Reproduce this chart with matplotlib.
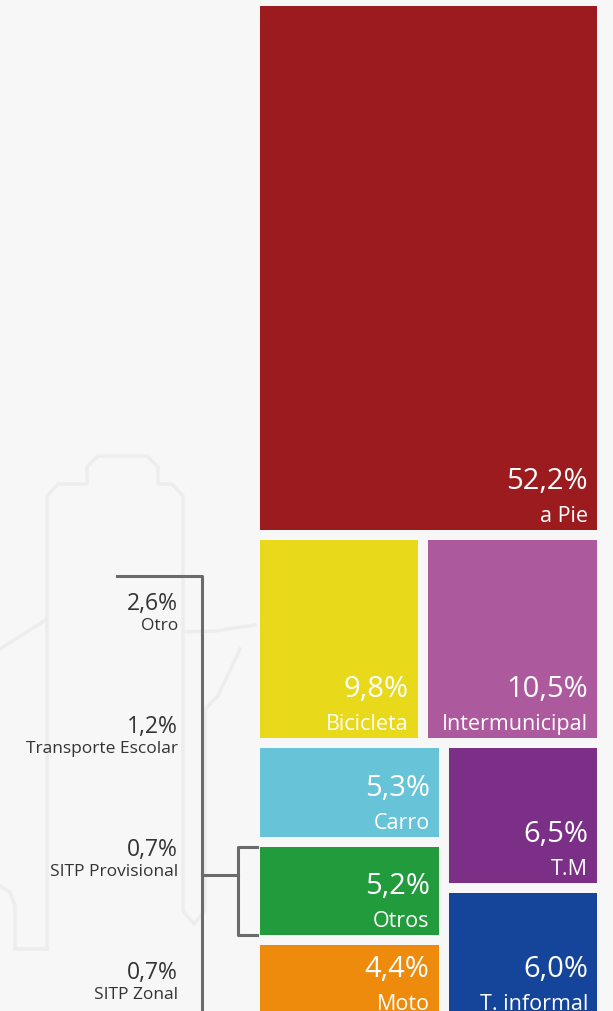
import matplotlib.pyplot as plt
from matplotlib.patches import Rectangle

plt.rcParams['font.family'] = ['Open Sans', 'DejaVu Sans']

# datos: reparto modal (%)
top_mode = ["a Pie"]
top_vals = [52.2]
row_modes = ["Bicicleta", "Intermunicipal"]
row_vals = [9.8, 10.5]
left_modes = ["Carro", "Otros", "Moto"]
left_vals = [5.3, 5.2, 4.4]
right_modes = ["T.M", "T. informal"]
right_vals = [6.5, 6.0]
colores = {"a Pie": "#9B1B1E", "Bicicleta": "#E8D91A", "Intermunicipal": "#AC5A9D",
           "Carro": "#67C4D8", "Otros": "#219B3B", "Moto": "#EE8B0D",
           "T.M": "#7B2F87", "T. informal": "#15459A"}

# desglose de "Otros"
otros_modes = ["Otro", "Transporte Escolar", "SITP Provisional", "SITP Zonal"]
otros_vals = [2.6, 1.2, 0.7, 0.7]


def fmt(v):
    return ("%.1f%%" % v).replace(".", ",")


fig = plt.figure(figsize=(6.13, 10.12), dpi=100, facecolor="#F7F7F7")
ax = fig.add_axes([0, 0, 1, 1])
ax.set_xlim(0, 613)
ax.set_ylim(1012, 0)
ax.axis("off")
ax.set_facecolor("#F7F7F7")

# dibujo de fondo muy tenue
fondo = "#EDEDED"
ax.plot([47, 47, 58, 87, 87, 98, 147, 158, 158, 172, 183, 183, 194, 205, 205, 218, 240],
        [950, 497, 485, 485, 468, 457, 457, 468, 485, 485, 497, 912, 925, 912, 710, 697, 650],
        color=fondo, lw=2.5, solid_joinstyle="round", zorder=0)
ax.plot([0, 10, 15, 15, 47], [887, 893, 907, 950, 950], color=fondo, lw=2.5, zorder=0)
ax.plot([0, 47], [650, 620], color=fondo, lw=2.5, zorder=0)
ax.plot([183, 215, 255], [633, 632, 626], color=fondo, lw=2.5, zorder=0)

# treemap hecho a mano
X0, Y0, W = 255, 2, 347
A = W * 534 / 52.2   # px^2 por punto porcentual
pad = 5
rects = {}

h1 = sum(top_vals) * A / W
rects[top_mode[0]] = (X0, Y0, W, h1)

y = Y0 + h1
h2 = sum(row_vals) * A / W
x = X0
for m, v in zip(row_modes, row_vals):
    w = v * A / h2
    rects[m] = (x, y, w, h2)
    x += w

y3 = y + h2
h3 = (sum(left_vals) + sum(right_vals)) * A / W
wl = sum(left_vals) * A / h3
yy = y3
for m, v in zip(left_modes, left_vals):
    h = v * A / wl
    rects[m] = (X0, yy, wl, h)
    yy += h
yy = y3
for m, v in zip(right_modes, right_vals):
    h = v * A / (W - wl)
    rects[m] = (X0 + wl, yy, W - wl, h)
    yy += h

valores = dict(zip(top_mode + row_modes + left_modes + right_modes,
                   top_vals + row_vals + left_vals + right_vals))
for m, (x, y, w, h) in rects.items():
    ax.add_patch(Rectangle((x + pad, y + pad), w - 2 * pad, h - 2 * pad,
                           facecolor=colores[m], edgecolor="none", zorder=2))
    xr = x + w - pad - 9
    yb = y + h - pad
    ax.text(xr, yb - 42, fmt(valores[m]), color="white", fontsize=21,
            ha="right", va="baseline", zorder=3)
    ax.text(xr, yb - 9, m, color="white", fontsize=15.5,
            ha="right", va="baseline", zorder=3)

# llave que abre "Otros"
gris = "#6B6B6B"
ox, oy, ow, oh = rects["Otros"]
t, b = oy + pad, oy + oh - pad
yr = t + 0.32 * (b - t)
ax.plot([117, 202, 202], [577, 577, 1020], color=gris, lw=2.2, zorder=1)
ax.plot([202, 238], [yr, yr], color=gris, lw=2.2, zorder=1)
ax.plot([257, 238, 238, 257], [t, t, b, b], color=gris, lw=2.2, zorder=1)

for i, (m, v) in enumerate(zip(otros_modes, otros_vals)):
    yl = 610 + i * 123
    ax.text(178, yl, fmt(v), color="#333333", fontsize=16.5, ha="right",
            va="baseline")
    ax.text(178, yl + 20, m, color="#333333", fontsize=12.5, ha="right",
            va="baseline")

plt.savefig("out.png", dpi=100, facecolor=fig.get_facecolor())
